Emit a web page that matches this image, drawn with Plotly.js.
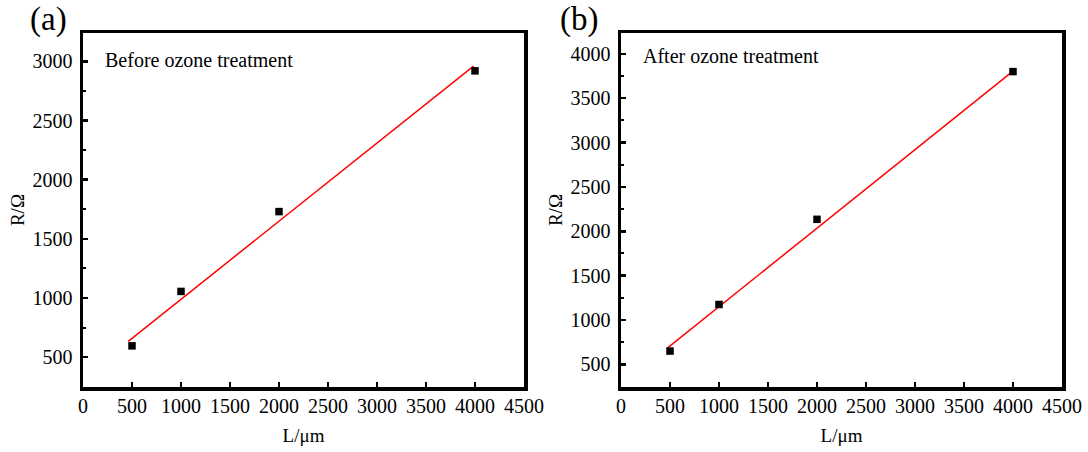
<!DOCTYPE html>
<html>
<head>
<meta charset="utf-8">
<script src="https://cdn.plot.ly/plotly-3.0.1.min.js"></script>
<style>html,body{margin:0;padding:0;background:#fff}#chart{width:1088px;height:452px}</style>
</head>
<body>
<div id="chart"></div>
<script>
// Data
const lengthUm = [500, 1000, 2000, 4000];
const resistanceBefore = [595, 1055, 1730, 2920];
const resistanceAfter = [650, 1175, 2135, 3800];
// Fitted line end points
const fitBeforeX = [462, 3985];
const fitBeforeY = [633, 2960];
const fitAfterX = [469, 4000];
const fitAfterY = [680, 3805];
const panelLabels = ["(a)", "(b)"];
const panelNotes = ["Before ozone treatment", "After ozone treatment"];
const xTitle = "L/μm";
const yTitle = "R/Ω";

const W = 1088, H = 452;
const font = {family: "'Liberation Serif'", color: "#000"};

function scatter(x, y, xa, ya) {
  return {x: x, y: y, xaxis: xa, yaxis: ya, type: "scatter", mode: "markers",
    marker: {symbol: "square", size: 7.5, color: "#000"}, hoverinfo: "skip"};
}
function fit(x, y, xa, ya) {
  return {x: x, y: y, xaxis: xa, yaxis: ya, type: "scatter", mode: "lines",
    line: {color: "#ff0000", width: 1.5}, hoverinfo: "skip"};
}

const data = [
  fit(fitBeforeX, fitBeforeY, "x", "y"),
  scatter(lengthUm, resistanceBefore, "x", "y"),
  fit(fitAfterX, fitAfterY, "x2", "y2"),
  scatter(lengthUm, resistanceAfter, "x2", "y2")
];

const ydom = [(H - 387) / H, (H - 33) / H];
function xaxis(d) {
  return {domain: d, range: [0, 4500], tick0: 0, dtick: 500, ticks: "inside",
    ticklen: 5, tickwidth: 2.5, tickcolor: "#000", showline: true, linewidth: 3.5,
    linecolor: "#000", mirror: true, showgrid: false, zeroline: false,
    tickfont: Object.assign({size: 20}, font), ticklabelstandoff: -2,
    title: {text: xTitle, font: Object.assign({size: 19}, font), standoff: 14}};
}
function yaxis(r, anchor) {
  return {domain: ydom, range: r, tick0: 500, dtick: 500, ticks: "inside",
    ticklen: 5, tickwidth: 2.5, tickcolor: "#000", showline: true, linewidth: 3.5,
    linecolor: "#000", mirror: true, showgrid: false, zeroline: false,
    anchor: anchor,
    minor: {dtick: 250, tick0: 250, ticks: "inside", ticklen: 3, tickwidth: 2, tickcolor: "#000", showgrid: false},
    tickfont: Object.assign({size: 20}, font), ticklabelstandoff: 3,
    title: {text: yTitle, font: Object.assign({size: 19}, font), standoff: 4}};
}

const layout = {
  width: W, height: H, margin: {l: 0, r: 0, t: 0, b: 0},
  paper_bgcolor: "#fff", plot_bgcolor: "#fff", showlegend: false,
  font: font,
  xaxis: Object.assign(xaxis([83 / W, 524 / W]), {anchor: "y"}),
  yaxis: yaxis([247, 3240], "x"),
  xaxis2: Object.assign(xaxis([621 / W, 1062 / W]), {anchor: "y2"}),
  yaxis2: yaxis([245, 4235], "x2"),
  annotations: [
    {text: panelLabels[0], xref: "paper", yref: "paper", x: 28 / W, y: 1 - 20 / H,
      xanchor: "left", yanchor: "middle", showarrow: false, font: Object.assign({size: 33}, font)},
    {text: panelLabels[1], xref: "paper", yref: "paper", x: 558 / W, y: 1 - 20 / H,
      xanchor: "left", yanchor: "middle", showarrow: false, font: Object.assign({size: 33}, font)},
    {text: panelNotes[0], xref: "paper", yref: "paper", x: 103 / W, y: 1 - 60 / H,
      xanchor: "left", yanchor: "middle", showarrow: false, font: Object.assign({size: 20}, font)},
    {text: panelNotes[1], xref: "paper", yref: "paper", x: 641 / W, y: 1 - 56 / H,
      xanchor: "left", yanchor: "middle", showarrow: false, font: Object.assign({size: 20}, font)}
  ]
};

Plotly.newPlot("chart", data, layout, {staticPlot: true, displayModeBar: false});
</script>
</body>
</html>
